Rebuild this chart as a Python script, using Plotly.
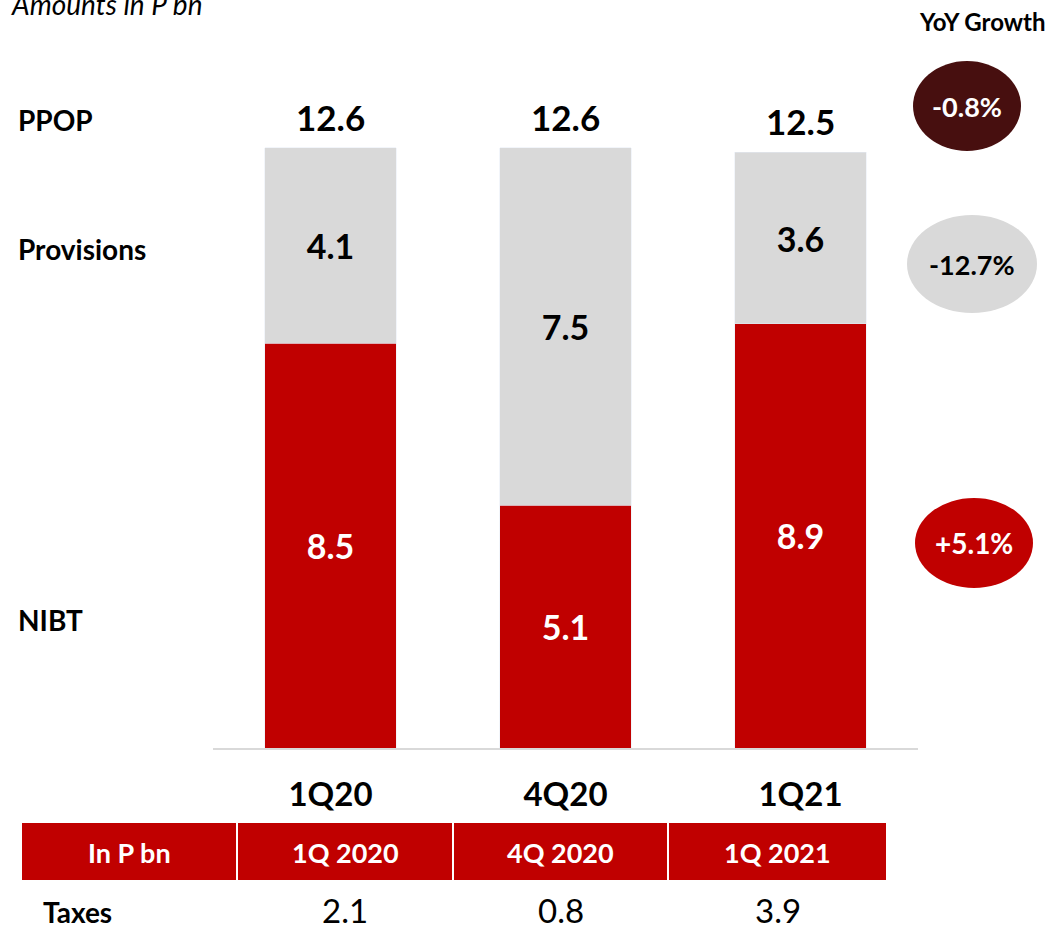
import plotly.graph_objects as go

# Quarterly figures (P bn)
quarters = ["1Q20", "4Q20", "1Q21"]
nibt = [8.5, 5.1, 8.9]
provisions = [4.1, 7.5, 3.6]
table_headers = ["In P bn", "1Q 2020", "4Q 2020", "1Q 2021"]
taxes = [2.1, 0.8, 3.9]
yoy_labels = ["-0.8%", "-12.7%", "+5.1%"]
row_labels = ["PPOP", "Provisions", "NIBT"]

RED = "#C00000"
GREY = "#D9D9D9"
MAROON = "#470F0F"
FONT = "Lato"

W, H = 1050, 931
L, R, T, B = 213, 918, 100, 748  # plot area in pixels


def px(x):
    """Pixel x -> paper x (paper spans the plot area)."""
    return (x - L) / (R - L)


def py(y):
    """Pixel y (from top) -> paper y."""
    return (B - y) / (B - T)


fig = go.Figure()
fig.add_trace(go.Bar(
    x=quarters, y=nibt, marker_color=RED, width=0.56,
    text=[f"{v:.1f}" for v in nibt], textposition="inside",
    insidetextanchor="middle",
    textfont=dict(family=FONT, size=34, color="white", weight="bold"),
))
fig.add_trace(go.Bar(
    x=quarters, y=provisions, marker_color=GREY, width=0.56,
    text=[f"{v:.1f}" for v in provisions], textposition="inside",
    insidetextanchor="middle",
    textfont=dict(family=FONT, size=34, color="black", weight="bold"),
))

annotations = []
# PPOP totals on top of each bar
for q, a, b in zip(quarters, nibt, provisions):
    tot = a + b
    annotations.append(dict(
        x=q, y=tot, xref="x", yref="y", text=f"{tot:.1f}", showarrow=False,
        yanchor="bottom", yshift=8,
        font=dict(family=FONT, size=35, color="black", weight="bold"),
    ))

# Row labels on the left
for lab, ypix in zip(row_labels, [120, 249, 620]):
    annotations.append(dict(
        x=px(16), y=py(ypix), xref="paper", yref="paper", text=f"<b>{lab}</b>",
        xanchor="left", yanchor="middle", showarrow=False,
        font=dict(family=FONT, size=28, color="black"),
    ))

annotations.append(dict(
    x=px(9), y=py(4), xref="paper", yref="paper", text="<i>Amounts in P bn</i>",
    xanchor="left", yanchor="middle", showarrow=False,
    font=dict(family=FONT, size=28, color="black"),
))
annotations.append(dict(
    x=px(982), y=py(22), xref="paper", yref="paper", text="<b>YoY Growth</b>",
    xanchor="center", yanchor="middle", showarrow=False,
    font=dict(family=FONT, size=24, color="black"),
))

shapes = []
# YoY growth bubbles
bubbles = [
    (913, 61, 1021, 151, MAROON, "white", 27),
    (907, 215, 1037, 313, GREY, "black", 27),
    (915, 498, 1033, 588, RED, "white", 28),
]
for (x0, y0, x1, y1, fill, fc, fs), lab in zip(bubbles, yoy_labels):
    shapes.append(dict(type="circle", xref="paper", yref="paper",
                       x0=px(x0), x1=px(x1), y0=py(y1), y1=py(y0),
                       fillcolor=fill, line=dict(width=0), layer="above"))
    annotations.append(dict(
        x=px((x0 + x1) / 2), y=py((y0 + y1) / 2), xref="paper", yref="paper",
        text=f"<b>{lab}</b>", showarrow=False, xanchor="center", yanchor="middle",
        font=dict(family=FONT, size=fs, color=fc),
    ))

# Table header row
col_edges = [22, 237, 453, 668, 887]
for i, head in enumerate(table_headers):
    x0, x1 = col_edges[i], col_edges[i + 1]
    shapes.append(dict(type="rect", xref="paper", yref="paper",
                       x0=px(x0 + (1 if i else 0)), x1=px(x1 - 1),
                       y0=py(880), y1=py(823),
                       fillcolor=RED, line=dict(width=0), layer="above"))
    annotations.append(dict(
        x=px((x0 + x1) / 2), y=py(852), xref="paper", yref="paper",
        text=f"<b>{head}</b>", showarrow=False, xanchor="center", yanchor="middle",
        font=dict(family=FONT, size=27, color="white"),
    ))

# Taxes row
annotations.append(dict(
    x=px(41), y=py(912), xref="paper", yref="paper", text="<b>Taxes</b>",
    showarrow=False, xanchor="left", yanchor="middle",
    font=dict(family=FONT, size=28, color="black"),
))
for i, v in enumerate(taxes):
    x0, x1 = col_edges[i + 1], col_edges[i + 2]
    annotations.append(dict(
        x=px((x0 + x1) / 2), y=py(910), xref="paper", yref="paper",
        text=f"{v:.1f}", showarrow=False, xanchor="center", yanchor="middle",
        font=dict(family=FONT, size=33, color="black"),
    ))

fig.update_layout(
    barmode="stack",
    width=W, height=H,
    margin=dict(l=L, r=W - R, t=T, b=H - B),
    paper_bgcolor="white", plot_bgcolor="white",
    showlegend=False,
    annotations=annotations,
    shapes=shapes,
    xaxis=dict(
        type="category", range=[-0.5, 2.5], showgrid=False,
        showline=True, linecolor=GREY, linewidth=2, ticks="",
        tickfont=dict(family=FONT, size=33, color="black", weight="bold"),
        ticklabelstandoff=16,
    ),
    yaxis=dict(range=[0, 13.6], visible=False),
)

fig.write_html("out.html")
